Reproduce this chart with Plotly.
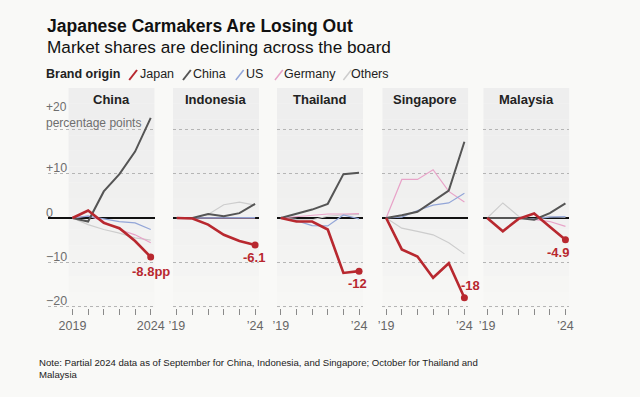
import plotly.graph_objects as go

# ---------------- data ----------------
years = [2019, 2020, 2021, 2022, 2023, 2024]
markets = ["China", "Indonesia", "Thailand", "Singapore", "Malaysia"]

# change in market share since 2019, percentage points
japan = {
    "China":     [0, 1.7, -1.1, -2.3, -5.2, -8.8],
    "Indonesia": [0, -0.1, -1.5, -3.8, -5.2, -6.1],
    "Thailand":  [0, -0.8, -0.8, -2.6, -12.4, -12.0],
    "Singapore": [0, -7.1, -8.7, -13.5, -10.2, -18.0],
    "Malaysia":  [0, -3.0, -0.2, 1.0, -2.0, -4.9],
}
china = {
    "China":     [0, -0.8, 6.0, 9.9, 15.0, 22.6],
    "Indonesia": [0, 0.0, 0.9, 0.4, 1.1, 3.2],
    "Thailand":  [0, 0.9, 1.9, 3.2, 9.9, 10.2],
    "Singapore": [0, 0.6, 1.4, 3.8, 6.2, 17.2],
    "Malaysia":  [0, 0.0, 0.0, -0.4, 1.1, 3.3],
}
us = {
    "China":     [0, 0.4, -0.2, -0.8, -1.1, -2.6],
    "Indonesia": [0, 0.0, 0.1, 0.1, 0.1, 0.1],
    "Thailand":  [0, -0.6, -1.7, -1.8, 0.7, -0.2],
    "Singapore": [0, 0.2, 1.7, 2.9, 3.4, 5.6],
    "Malaysia":  [0, -0.1, 0.0, -0.2, 0.2, 0.3],
}
germany = {
    "China":     [0, 0.5, -0.8, -2.6, -3.8, -5.6],
    "Indonesia": [0, 0.0, 0.0, 0.0, 0.1, 0.0],
    "Thailand":  [0, 0.3, 0.5, 0.9, 0.9, 1.0],
    "Singapore": [0, 8.7, 8.7, 10.9, 6.0, 3.6],
    "Malaysia":  [0, 0.0, 0.0, -0.3, -0.8, -1.9],
}
others = {
    "China":     [0, -1.5, -2.6, -3.4, -4.5, -5.0],
    "Indonesia": [0, 0.0, 0.8, 3.0, 3.6, 2.9],
    "Thailand":  [0, -0.3, -0.4, 0.4, 0.7, 0.8],
    "Singapore": [0, -2.3, -3.0, -3.8, -5.6, -8.1],
    "Malaysia":  [0, 3.4, 0.4, -0.4, 0.4, 0.2],
}
end_labels = ["-8.8pp", "-6.1", "-12", "-18", "-4.9"]
legend_names = ["Japan", "China", "US", "Germany", "Others"]
ytick_vals = [20, 10, 0, -10, -20]
ytick_text = ["+20<br>percentage points", "+10", "0", "\u221210", "\u221220"]

# ---------------- styling ----------------
W, H = 640, 397
BG = "#f9f9f7"
RED = "#b8282f"
DARK = "#555555"
BLUE = "#93a6d8"
PINK = "#e8a3c8"
LIGHT = "#cdcdcd"
FONT = "Liberation Sans, Arial, sans-serif"

series = [  # drawing order: back to front
    (others, LIGHT, 1.2),
    (germany, PINK, 1.2),
    (us, BLUE, 1.2),
    (china, DARK, 2.0),
    (japan, RED, 2.6),
]

def px_x(p):
    return p / W

def px_y(p):
    return 1 - p / H

tick0_px = [70, 176.7, 283, 390.7, 494]
PX_PER_YEAR = 16
YTOP_PX, YBOT_PX, ZERO_PX, PX_PER_UNIT = 88, 308, 218, 4.43
y_range = [-(YBOT_PX - ZERO_PX) / PX_PER_UNIT, (ZERO_PX - YTOP_PX) / PX_PER_UNIT]
y_domain = [px_y(YBOT_PX), px_y(YTOP_PX)]

fig = go.Figure()
layout = {}
shapes = []
annotations = []

label_shift = [(0, -15), (-1, -12), (-2, -12), (6, 12), (-7, -13)]

for i, m in enumerate(markets):
    n = i + 1
    xa = "x" if n == 1 else f"x{n}"
    ya = "y" if n == 1 else f"y{n}"
    t0 = tick0_px[i]
    shade_l, shade_r = t0 - 4, t0 + 84
    left_px = 45 if i == 0 else shade_l
    x_lo = years[0] - (t0 - left_px) / PX_PER_YEAR
    x_hi = years[-1] + (shade_r - (t0 + 80)) / PX_PER_YEAR

    if i == 0:
        ticktext = ["2019", "", "", "", "", "2024"]
    else:
        ticktext = ["\u201919", "", "", "", "", "\u201924"]

    layout["xaxis" if n == 1 else f"xaxis{n}"] = dict(
        domain=[px_x(left_px), px_x(shade_r)], range=[x_lo, x_hi],
        anchor=ya, showgrid=False, zeroline=False, showline=False,
        tickvals=years, ticktext=ticktext, ticks="outside", ticklen=6,
        tickcolor="#8a8a8a", tickwidth=1,
        tickfont=dict(family=FONT, size=12.5, color="#666666"),
        fixedrange=True,
    )
    layout["yaxis" if n == 1 else f"yaxis{n}"] = dict(
        domain=y_domain, range=y_range, anchor=xa,
        tickvals=ytick_vals, showticklabels=False,
        showgrid=True, gridcolor="#b5b5b5", griddash="dot", gridwidth=1,
        zeroline=True, zerolinecolor="#111111", zerolinewidth=1.6,
        showline=False, fixedrange=True,
    )

    # gradient-like panel shading
    nb = 14
    for b in range(nb):
        f = b / (nb - 1)
        c0 = (238, 238, 238)
        c1 = (247, 247, 245)
        col = tuple(round(c0[k] + (c1[k] - c0[k]) * (f ** 2)) for k in range(3))
        shapes.append(dict(
            type="rect", xref=xa, yref=f"{ya} domain",
            x0=years[0] - 4 / PX_PER_YEAR, x1=x_hi,
            y0=1 - (b + 1) / nb, y1=1 - b / nb,
            fillcolor=f"rgb{col}", line=dict(width=0), layer="below",
        ))

    for data, color, w in series:
        fig.add_trace(go.Scatter(
            x=years, y=data[m], mode="lines", xaxis=xa, yaxis=ya,
            line=dict(color=color, width=w), hoverinfo="skip", showlegend=False,
        ))
    fig.add_trace(go.Scatter(
        x=[years[-1]], y=[japan[m][-1]], mode="markers", xaxis=xa, yaxis=ya,
        marker=dict(color=RED, size=7), hoverinfo="skip", showlegend=False,
    ))
    dx, dy = label_shift[i]
    annotations.append(dict(
        x=years[-1], y=japan[m][-1], xref=xa, yref=ya, text=f"<b>{end_labels[i]}</b>",
        showarrow=False, xshift=dx, yshift=dy,
        font=dict(family=FONT, size=13, color=RED),
    ))
    annotations.append(dict(
        x=px_x((shade_l + shade_r) / 2), y=px_y(99), xref="paper", yref="paper",
        text=f"<b>{m}</b>", showarrow=False, xanchor="center", yanchor="middle",
        font=dict(family=FONT, size=13, color="#222222"),
    ))

# y labels (first panel)
for v, t in zip(ytick_vals, ytick_text):
    if v == 20:
        annotations.append(dict(
            x=px_x(41), y=v, xref="paper", yref="y", text=t, showarrow=False,
            xanchor="left", yanchor="bottom", yshift=-3, align="left",
            font=dict(family=FONT, size=12, color="#6e6e6e"),
        ))
    else:
        annotations.append(dict(
            x=px_x(41), y=v, xref="paper", yref="y", text=t, showarrow=False,
            xanchor="left", yanchor="middle", yshift=5.5, align="left",
            font=dict(family=FONT, size=12.5, color="#6e6e6e"),
        ))

# titles
annotations.append(dict(
    x=px_x(42), y=px_y(26), xref="paper", yref="paper",
    text="<b>Japanese Carmakers Are Losing Out</b>", showarrow=False,
    xanchor="left", yanchor="middle", font=dict(family=FONT, size=17.5, color="#111111"),
))
annotations.append(dict(
    x=px_x(42), y=px_y(47), xref="paper", yref="paper",
    text="Market shares are declining across the board", showarrow=False,
    xanchor="left", yanchor="middle", font=dict(family=FONT, size=17.2, color="#111111"),
))

# legend
annotations.append(dict(
    x=px_x(41), y=px_y(74), xref="paper", yref="paper", text="<b>Brand origin</b>",
    showarrow=False, xanchor="left", yanchor="middle",
    font=dict(family=FONT, size=12.5, color="#222222"),
))
legend_colors = [RED, DARK, BLUE, PINK, LIGHT]
slash_px = [128, 183, 237, 277, 347]
text_px = [137, 191, 245, 284, 353]
for name, col, sx, tx in zip(legend_names, legend_colors, slash_px, text_px):
    shapes.append(dict(
        type="line", xref="paper", yref="paper",
        x0=px_x(sx), y0=px_y(80), x1=px_x(sx + 8), y1=px_y(70),
        line=dict(color=col, width=2 if col in (RED, DARK) else 1.5),
    ))
    annotations.append(dict(
        x=px_x(tx), y=px_y(74), xref="paper", yref="paper", text=name,
        showarrow=False, xanchor="left", yanchor="middle",
        font=dict(family=FONT, size=12.5, color="#222222"),
    ))

# note
annotations.append(dict(
    x=px_x(34), y=px_y(355), xref="paper", yref="paper",
    text="Note: Partial 2024 data as of September for China, Indonesia, and Singapore; October for Thailand and<br>Malaysia",
    showarrow=False, xanchor="left", yanchor="top", align="left",
    font=dict(family=FONT, size=9.6, color="#222222"),
))

fig.update_layout(
    width=W, height=H, margin=dict(l=0, r=0, t=0, b=0),
    paper_bgcolor=BG, plot_bgcolor="rgba(0,0,0,0)",
    showlegend=False, shapes=shapes, annotations=annotations,
    **layout,
)
fig.write_html(
    "out.html", config={"displayModeBar": False},
    post_script="document.body.style.margin='0';document.body.style.overflow='hidden';",
)
